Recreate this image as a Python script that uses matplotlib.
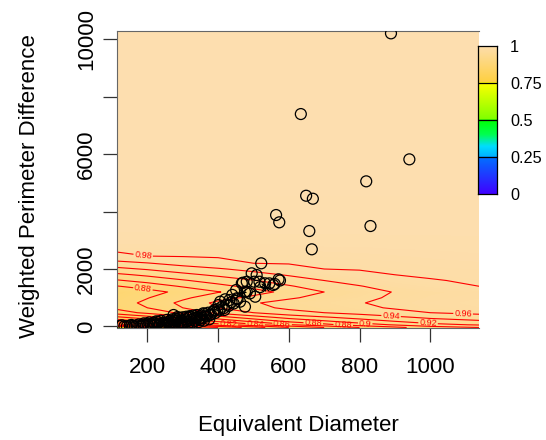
import numpy as np
import matplotlib
matplotlib.use("Agg")
import matplotlib.pyplot as plt
from matplotlib.colors import LinearSegmentedColormap

plt.rcParams['font.family'] = ['Liberation Sans', 'DejaVu Sans']

# ---- surface (estimated probability field) ----
grid_x = [114, 200, 300, 400, 500, 600, 700, 800, 900, 1000, 1138]
grid_y = [-35, 60, 180, 320, 480, 650, 820, 1000, 1200, 1400, 1600, 1800,
          2000, 2200, 2450, 2800, 3400, 10280]
col_114 = [0.700, 0.751, 0.785, 0.816, 0.850, 0.865, 0.870, 0.866, 0.861, 0.879, 0.898, 0.916, 0.935, 0.953, 0.976, 0.986, 0.997, 1.0]
col_200 = [0.720, 0.770, 0.803, 0.832, 0.865, 0.880, 0.885, 0.879, 0.872, 0.889, 0.907, 0.924, 0.942, 0.959, 0.980, 0.986, 0.997, 1.0]
col_300 = [0.740, 0.790, 0.823, 0.852, 0.885, 0.900, 0.905, 0.896, 0.886, 0.902, 0.918, 0.935, 0.951, 0.967, 0.981, 0.987, 0.997, 1.0]
col_400 = [0.760, 0.810, 0.843, 0.872, 0.905, 0.920, 0.925, 0.912, 0.899, 0.914, 0.929, 0.944, 0.958, 0.973, 0.982, 0.988, 0.997, 1.0]
col_500 = [0.790, 0.834, 0.864, 0.891, 0.920, 0.934, 0.938, 0.925, 0.912, 0.926, 0.939, 0.953, 0.966, 0.980, 0.984, 0.989, 0.997, 1.0]
col_600 = [0.820, 0.858, 0.884, 0.907, 0.933, 0.944, 0.948, 0.937, 0.926, 0.938, 0.950, 0.962, 0.973, 0.981, 0.984, 0.989, 0.997, 1.0]
col_700 = [0.840, 0.874, 0.897, 0.918, 0.940, 0.951, 0.954, 0.947, 0.940, 0.950, 0.960, 0.970, 0.980, 0.982, 0.985, 0.990, 0.997, 1.0]
col_800 = [0.860, 0.890, 0.910, 0.927, 0.947, 0.956, 0.959, 0.955, 0.951, 0.959, 0.968, 0.976, 0.981, 0.983, 0.986, 0.990, 0.997, 1.0]
col_900 = [0.875, 0.902, 0.920, 0.936, 0.954, 0.962, 0.965, 0.963, 0.961, 0.968, 0.974, 0.980, 0.982, 0.984, 0.987, 0.991, 0.997, 1.0]
col_1000 = [0.890, 0.914, 0.930, 0.944, 0.960, 0.968, 0.970, 0.968, 0.966, 0.973, 0.979, 0.982, 0.984, 0.986, 0.988, 0.991, 0.997, 1.0]
col_1138 = [0.900, 0.922, 0.937, 0.950, 0.965, 0.972, 0.974, 0.972, 0.970, 0.980, 0.982, 0.984, 0.985, 0.987, 0.989, 0.992, 0.997, 1.0]
surface_columns = [col_114, col_200, col_300, col_400, col_500, col_600,
                   col_700, col_800, col_900, col_1000, col_1138]
contour_levels = [0.70, 0.72, 0.74, 0.76, 0.78, 0.80, 0.82, 0.84, 0.86,
                  0.88, 0.90, 0.92, 0.94, 0.96, 0.98]
label_spots_x = [188, 188, 889, 1093, 994, 429, 505, 581, 669, 754, 816]
label_spots_y = [2470, 1384, 296, 430, 120, 87, 87, 87, 87, 87, 87]

# ---- observations ----
obs_x = [889, 634, 941, 819, 649, 668, 564, 573, 658, 831, 665, 522,
         495, 509, 502, 517, 533, 571, 556, 470, 451, 481, 505, 453, 462,
         476, 432, 420, 406, 401, 418, 390, 377, 358, 340, 321, 274, 349,
         481, 467, 476, 519, 545, 560, 575,
         122, 135, 150, 160, 170, 180, 188, 195, 202, 210, 215, 222, 228,
         235, 240, 246, 252, 258, 262, 268, 272, 278, 283, 288, 292, 298,
         303, 308, 312, 318, 322, 327, 332, 336, 340, 346, 352, 356, 362,
         368, 372, 380, 386, 392, 398, 404, 410, 416, 424, 430, 438, 444,
         128, 142, 155, 165, 175, 185, 200, 218, 232, 250, 265, 275, 285,
         295, 305, 315, 325, 345, 360, 375, 280, 440, 455, 490,
         190, 205, 225, 238, 255, 270, 290, 300, 310, 320, 330, 338, 350,
         365, 300, 260, 245, 215, 230, 315, 285]
obs_y = [10198, 7391, 5815, 5050, 4549, 4445, 3878, 3624, 3321, 3495, 2685, 2198,
         1850, 1791, 1558, 1558, 1502, 1642, 1443, 1523, 1269, 1210, 1036, 981, 863,
         689, 922, 946, 863, 748, 574, 574, 400, 459, 400, 341, 400, 285,
         1558, 1502, 1210, 1370, 1500, 1480, 1600,
         20, 10, 30, 15, 40, 25, 60, 35, 50, 80, 20, 60, 100,
         45, 90, 120, 70, 140, 100, 60, 160, 120, 190, 90, 150, 210,
         130, 250, 180, 300, 220, 140, 280, 200, 330, 260, 380, 300, 440,
         350, 480, 420, 520, 470, 600, 560, 680, 640, 760, 720, 850, 800,
         40, 5, 55, 5, 70, 10, 100, 130, 15, 30, 200, 30, 240,
         50, 80, 110, 40, 150, 200, 250, 270, 1100, 950, 1150,
         110, 140, 180, 200, 230, 250, 300, 320, 340, 360, 380, 300, 220,
         380, 60, 170, 60, 40, 160, 70, 330]
sv_x = [533, 467, 290, 330, 240]
sv_y = [1378, 1210, 240, 180, 130]

x_ticks = [200, 400, 600, 800, 1000]
y_ticks = [0, 2000, 4000, 6000, 8000, 10000]
y_ticklabels = ['0', '2000', '', '6000', '', '10000']
key_ticks = [0, 0.25, 0.5, 0.75, 1]
key_labels = ['0', '0.25', '0.5', '0.75', '1']

cmap = LinearSegmentedColormap.from_list('key', [
    (0.0, '#4000FF'), (0.25, '#0072FF'), (0.25, '#00B0FF'), (0.32, '#00DDFF'),
    (0.40, '#00FF50'), (0.5, '#00FF00'), (0.5, '#80FF00'), (0.75, '#FFFF00'),
    (0.75, '#FFD040'), (1.0, '#FDDEAF')], N=512)

W, H = 546, 440
fig = plt.figure(figsize=(W / 100, H / 100), dpi=100)
ax = fig.add_axes([117 / W, (H - 327.5) / H, (479 - 117) / W, (327.5 - 31) / H])

ax.set_xlim(114, 1138)
ax.set_ylim(-35, 10280)

Z = np.array(surface_columns).T
ax.contourf(grid_x, grid_y, Z, levels=np.linspace(0, 1, 401), cmap=cmap,
            vmin=0, vmax=1, antialiased=False)
cs = ax.contour(grid_x, grid_y, Z, levels=contour_levels, colors='#FF0000',
                linewidths=0.8)
ax.clabel(cs, fmt='%g', fontsize=6.5, inline=True, inline_spacing=1,
          manual=list(zip(label_spots_x, label_spots_y)))

ax.scatter(obs_x, obs_y, s=62, facecolors='none', edgecolors='black',
           linewidths=0.9, zorder=3)
ax.scatter(sv_x, sv_y, s=40, marker='+', c='black', linewidths=0.8, zorder=3)
ax.scatter(sv_x, sv_y, s=30, marker='x', c='black', linewidths=0.8, zorder=3)

ax.set_xlim(114, 1138)
ax.set_ylim(-35, 10280)
ax.set_xticks(x_ticks)
ax.set_xticklabels([str(v) for v in x_ticks])
ax.set_yticks(y_ticks)
ax.set_yticklabels(y_ticklabels, rotation=90, va='center')
ax.tick_params(axis='both', direction='out', length=10, width=0.9,
               color='#333333', labelsize=16)
ax.tick_params(axis='x', pad=11)
ax.tick_params(axis='y', pad=4.5)
for s in ['left', 'top', 'bottom']:
    ax.spines[s].set_color('#666666')
    ax.spines[s].set_linewidth(0.8)
ax.spines['right'].set_visible(False)

fig.text(298 / W, 1 - 425 / H, 'Equivalent Diameter', ha='center', va='center',
         fontsize=16)
fig.text(30 / W, 1 - 186 / H, 'Weighted Perimeter Difference', ha='center',
         va='center', rotation=90, fontsize=16)

cax = fig.add_axes([478.3 / W, (H - 194.3) / H, 18.4 / W, 148.3 / H])
cax.imshow(np.linspace(0, 1, 512).reshape(-1, 1), aspect='auto', cmap=cmap,
           origin='lower', extent=[0, 1, 0, 1], vmin=0, vmax=1)
for lv in [0.25, 0.5, 0.75]:
    cax.axhline(lv, color='black', linewidth=0.9)
cax.set_xlim(0, 1)
cax.set_ylim(0, 1)
cax.set_xticks([])
cax.yaxis.tick_right()
cax.set_yticks(key_ticks)
cax.set_yticklabels(key_labels)
cax.tick_params(axis='y', length=0, pad=9.5, labelsize=11.7)
for s in cax.spines.values():
    s.set_color('black')
    s.set_linewidth(0.9)

fig.savefig('out.png', dpi=100)
